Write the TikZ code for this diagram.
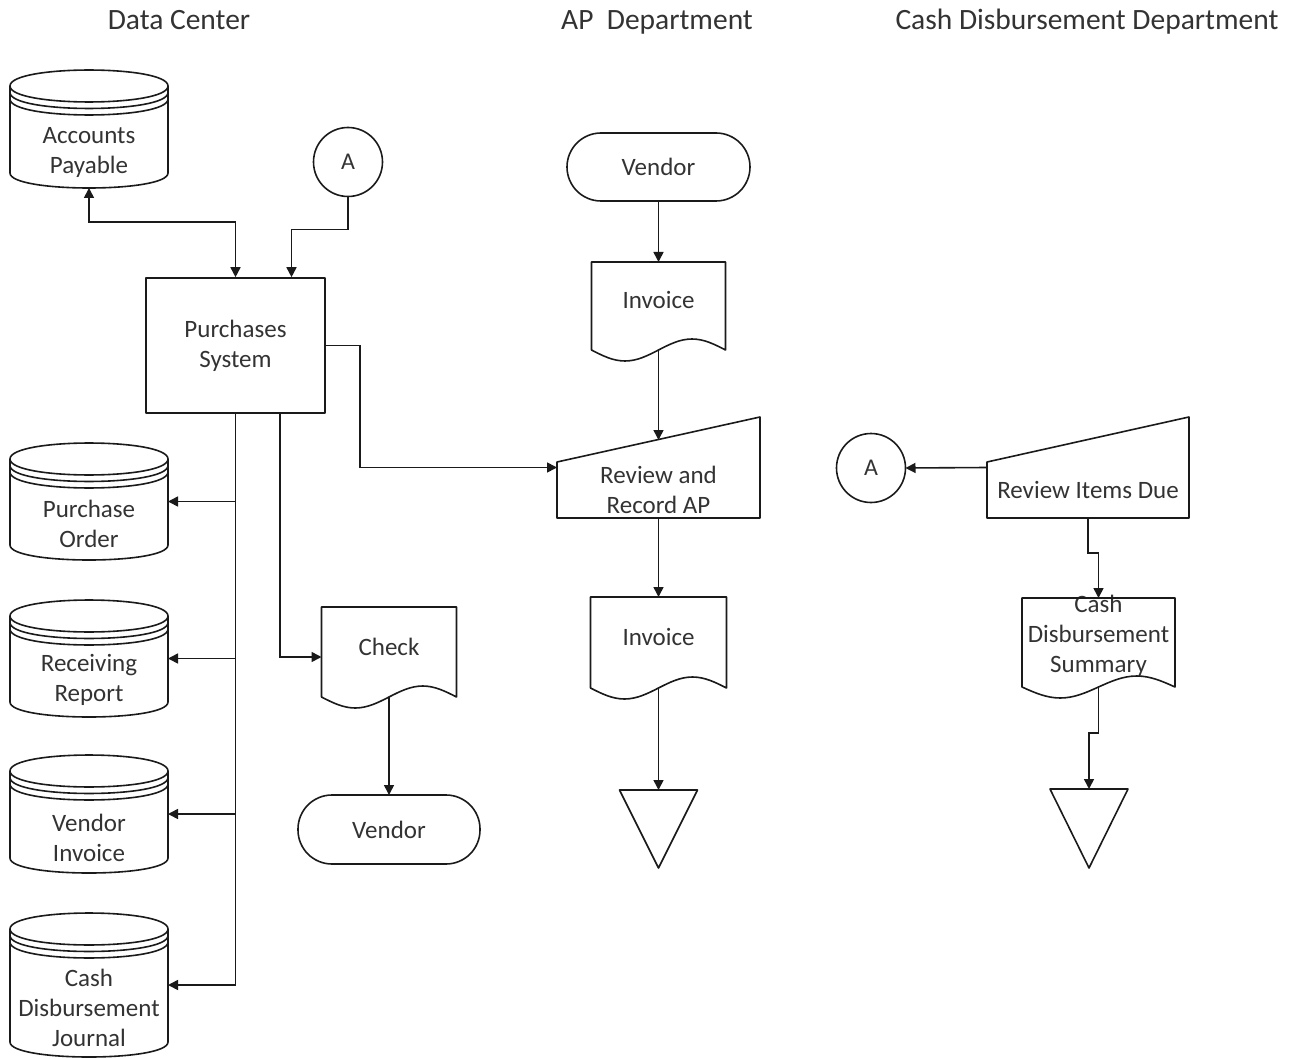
\documentclass[tikz,border=0pt]{standalone}
\usepackage{fontspec}
\setmainfont{Carlito}
\usetikzlibrary{arrows.meta,calc}
\definecolor{ink}{HTML}{1A1A1A}
\definecolor{txtc}{HTML}{333333}

\tikzset{
  frame/.style={inner sep=0pt, outer sep=0pt, draw=none},
  outline/.style={draw=ink, line width=1.6pt, line join=round},
  flow/.style={draw=ink, line width=1.6pt, -{Triangle[length=10pt,width=10pt]}},
  flowboth/.style={draw=ink, line width=1.6pt, {Triangle[length=10pt,width=10pt]}-{Triangle[length=10pt,width=10pt]}},
  lbl/.style={align=center, font=\fontsize{25}{30}\selectfont, text=txtc, inner sep=0pt},
  conn/.style={outline, circle, minimum size=69pt, inner sep=0pt, outer sep=0pt,
               font=\fontsize{24}{28}\selectfont, text=txtc},
  term/.style={outline, rounded corners=34pt, inner sep=0pt, outer sep=0pt,
               font=\fontsize{25}{30}\selectfont, text=txtc},
  head/.style={font=\fontsize{29.5}{35}\selectfont, text=txtc, inner sep=0pt},
}

% disk store: top ellipse, two stacked rims, body with lower arc
\newcommand\diskoutline[1]{%
  \draw[outline] ($(#1.north west)+(0,16)$)
      .. controls ($(#1.north west)+(0,-5.3)$) and ($(#1.north east)+(0,-5.3)$) .. ($(#1.north east)+(0,16)$)
      .. controls ($(#1.north east)+(0,37.3)$) and ($(#1.north west)+(0,37.3)$) .. cycle;
  \draw[outline] ($(#1.north west)+(0,22.5)$)
      .. controls ($(#1.north west)+(0,43.8)$) and ($(#1.north east)+(0,43.8)$) .. ($(#1.north east)+(0,22.5)$);
  \draw[outline] ($(#1.north west)+(0,29)$)
      .. controls ($(#1.north west)+(0,50.3)$) and ($(#1.north east)+(0,50.3)$) .. ($(#1.north east)+(0,29)$);
  \draw[outline] ($(#1.north west)+(0,16)$) -- ($(#1.south west)+(0,-15)$)
      .. controls ($(#1.south west)+(0,5)$) and ($(#1.south east)+(0,5)$) .. ($(#1.south east)+(0,-15)$)
      -- ($(#1.north east)+(0,16)$);
}
% document: rectangle with a wavy lower edge
\newcommand\docoutline[1]{%
  \draw[outline] (#1.north west) -- (#1.south west)
      sin ($(#1.south west)!0.25!(#1.south east)+(0,11)$) cos (#1.south)
      sin ($(#1.south west)!0.75!(#1.south east)+(0,-11)$) cos (#1.south east)
      -- (#1.north east) -- cycle;
}
% manual operation: sloped top edge
\newcommand\manualoutline[1]{%
  \draw[outline] (#1.south west) -- ($(#1.north west)+(0,45)$) -- (#1.north east)
      -- (#1.south east) -- cycle;
}
% off-page storage triangle
\newcommand\trioutline[1]{%
  \draw[outline] (#1.north west) -- (#1.north east) -- (#1.south) -- cycle;
}

\begin{document}
\begin{tikzpicture}[x=1pt, y=-1pt]
\useasboundingbox (0,0) rectangle (1306,1059);

% column headings
\node[head] (h1) at (179,20) {Data Center};
\node[head] (h2) at (657,22) {AP\ \ Department};
\node[head] (h3) at (1087,22) {Cash Disbursement Department};

% ---------------- Data Center ----------------
\node[frame, minimum width=158pt, minimum height=118pt] (ap) at (89,129) {};
\node[lbl] (apt) at (89,152) {Accounts\\Payable};
\node[frame, minimum width=158pt, minimum height=117pt] (po) at (89,501.5) {};
\node[lbl] (pot) at (89,523.5) {Purchase\\Order};
\node[frame, minimum width=158pt, minimum height=117pt] (rr) at (89,658.5) {};
\node[lbl] (rrt) at (89,680) {Receiving\\Report};
\node[frame, minimum width=158pt, minimum height=118pt] (vi) at (89,814) {};
\node[lbl] (vit) at (89,837.5) {Vendor\\Invoice};
\node[frame, minimum width=158pt, minimum height=144pt] (cdj) at (89,985) {};
\node[lbl] (cdjt) at (89,1008) {Cash\\Disbursement\\Journal};
\foreach \n in {ap,po,rr,vi,cdj} {\diskoutline{\n}}

\node[outline, lbl, minimum width=179pt, minimum height=135pt] (ps) at (235.5,345.5) {Purchases\\System};
\node[conn] (a1) at (348,162) {A};

\node[frame, minimum width=135pt, minimum height=90pt] (check) at (389,652) {};
\node[lbl] (checkt) at (389,647) {Check};
\docoutline{check}
\node[term, minimum width=182pt, minimum height=69pt] (vb) at (389,829.5) {Vendor};

% ---------------- AP Department ----------------
\node[term, minimum width=183pt, minimum height=68pt] (va) at (658.5,167) {Vendor};
\node[frame, minimum width=134pt, minimum height=88pt] (inv1) at (658.5,306) {};
\node[lbl] (inv1t) at (658.5,300) {Invoice};
\docoutline{inv1}
\node[frame, minimum width=203pt, minimum height=101pt] (rap) at (658.5,467.5) {};
\node[lbl] (rapt) at (658.5,490) {Review and\\Record AP};
\manualoutline{rap}
\coordinate (raptop) at (658.5,440);
\node[frame, minimum width=136pt, minimum height=91pt] (inv2) at (658.5,642.5) {};
\node[lbl] (inv2t) at (658.5,637) {Invoice};
\docoutline{inv2}
\node[frame, minimum width=78pt, minimum height=78pt] (t1) at (658.5,829) {};
\trioutline{t1}

% ---------------- Cash Disbursement Department ----------------
\node[conn] (a2) at (871,468) {A};
\node[frame, minimum width=202pt, minimum height=101pt] (rid) at (1088,467.5) {};
\node[lbl] (ridt) at (1088,490) {Review Items Due};
\manualoutline{rid}
\node[frame, minimum width=153pt, minimum height=89pt] (cds) at (1098.5,642.5) {};
\node[lbl] (cdst) at (1098.5,636) {Cash\\Disbursement\\Summary};
\docoutline{cds}
\node[frame, minimum width=78pt, minimum height=79pt] (t2) at (1089,828.5) {};
\trioutline{t2}

% ---------------- connectors ----------------
\draw[flowboth] (ap.south) -- ++(0,34) -| (ps.north);
\draw[flow] (a1.south) -- ++(0,33) -| ([xshift=56pt]ps.north);
\draw[flow] (ps.south) |- (po.east);
\draw[flow] (ps.south) |- (rr.east);
\draw[flow] (ps.south) |- (vi.east);
\draw[flow] (ps.south) |- (cdj.east);
\draw[flow] ([xshift=44.5pt]ps.south) |- ([yshift=-5pt]check.west);
\draw[flow] (ps.east) -- ++(34,0) |- (rap.west);
\draw[flow] (check.south) -- (vb.north);

\draw[flow] (va.south) -- (inv1.north);
\draw[flow] (inv1.south) -- (raptop);
\draw[flow] (rap.south) -- (inv2.north);
\draw[flow] (inv2.south) -- (t1.north);

\draw[flow] (rid.west) -- (a2.east);
\draw[flow] (rid.south) -- ++(0,35) -| (cds.north);
\draw[flow] (cds.south) -- ++(0,46) -| (t2.north);
\end{tikzpicture}
\end{document}
